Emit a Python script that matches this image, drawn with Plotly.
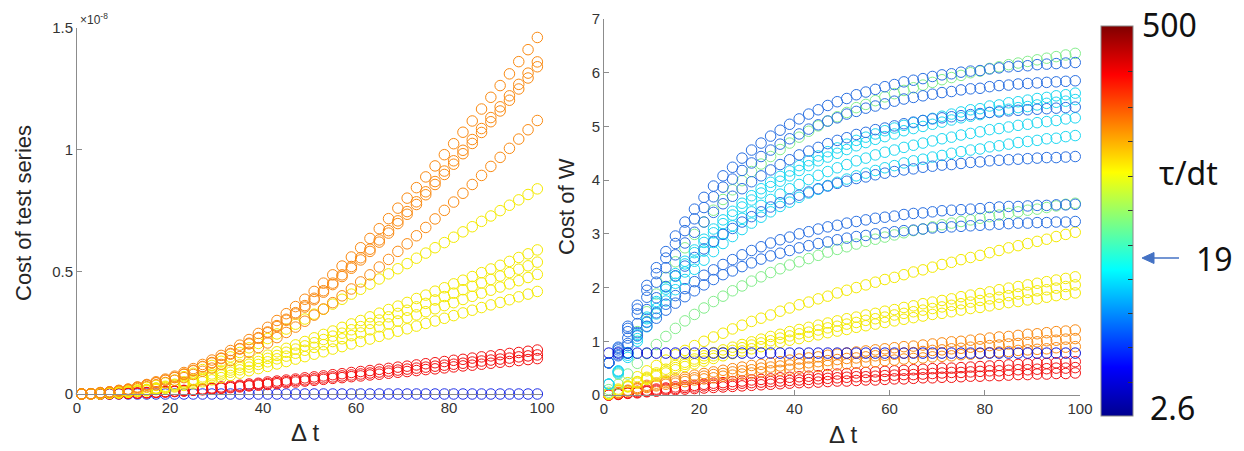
import plotly.graph_objects as go

# x positions of the markers (Delta t)
delta_t = list(range(1, 100, 2))

# ---------------- Left panel: Cost of test series (units of 1e-8) ----------------
test_orange_a = [0, 0.001, 0.006, 0.009, 0.015, 0.020, 0.029, 0.039, 0.050, 0.061,
                 0.073, 0.088, 0.104, 0.121, 0.139, 0.158, 0.178, 0.200, 0.223, 0.248,
                 0.273, 0.301, 0.329, 0.358, 0.388, 0.420, 0.454, 0.488, 0.524, 0.561,
                 0.599, 0.637, 0.677, 0.718, 0.761, 0.802, 0.845, 0.889, 0.934, 0.980,
                 1.025, 1.072, 1.118, 1.167, 1.215, 1.263, 1.311, 1.361, 1.410, 1.460]
test_orange_b = [0, 0.001, 0.005, 0.008, 0.014, 0.019, 0.027, 0.037, 0.046, 0.057,
                 0.068, 0.082, 0.097, 0.113, 0.129, 0.147, 0.166, 0.186, 0.208, 0.231,
                 0.254, 0.280, 0.306, 0.333, 0.362, 0.392, 0.423, 0.454, 0.488, 0.522,
                 0.558, 0.593, 0.631, 0.669, 0.709, 0.747, 0.787, 0.828, 0.870, 0.913,
                 0.955, 0.998, 1.042, 1.087, 1.132, 1.176, 1.221, 1.268, 1.314, 1.360]
test_orange_c = [0, 0.001, 0.005, 0.008, 0.013, 0.019, 0.027, 0.036, 0.046, 0.056,
                 0.067, 0.080, 0.095, 0.111, 0.127, 0.145, 0.163, 0.184, 0.205, 0.228,
                 0.251, 0.276, 0.302, 0.328, 0.356, 0.386, 0.417, 0.448, 0.481, 0.515,
                 0.549, 0.584, 0.622, 0.659, 0.698, 0.736, 0.776, 0.816, 0.858, 0.899,
                 0.941, 0.984, 1.026, 1.071, 1.115, 1.159, 1.203, 1.249, 1.294, 1.340]
test_orange_d = [0, 0.001, 0.004, 0.007, 0.011, 0.016, 0.022, 0.030, 0.038, 0.047,
                 0.056, 0.067, 0.080, 0.093, 0.106, 0.121, 0.137, 0.153, 0.171, 0.190,
                 0.209, 0.231, 0.252, 0.274, 0.298, 0.323, 0.348, 0.374, 0.402, 0.430,
                 0.459, 0.488, 0.520, 0.551, 0.584, 0.615, 0.648, 0.682, 0.717, 0.752,
                 0.786, 0.822, 0.858, 0.895, 0.932, 0.969, 1.006, 1.044, 1.082, 1.120]
test_yellow_a = [0, 0.001, 0.003, 0.005, 0.008, 0.013, 0.019, 0.027, 0.035, 0.045,
                 0.057, 0.071, 0.085, 0.100, 0.117, 0.134, 0.152, 0.170, 0.189, 0.207,
                 0.227, 0.246, 0.266, 0.286, 0.307, 0.327, 0.347, 0.368, 0.388, 0.409,
                 0.429, 0.450, 0.471, 0.492, 0.513, 0.534, 0.556, 0.577, 0.599, 0.620,
                 0.642, 0.664, 0.685, 0.707, 0.729, 0.751, 0.773, 0.795, 0.817, 0.840]
test_yellow_b = [0, 0.001, 0.002, 0.004, 0.006, 0.009, 0.014, 0.019, 0.025, 0.032,
                 0.040, 0.050, 0.060, 0.070, 0.082, 0.094, 0.107, 0.119, 0.133, 0.146,
                 0.159, 0.173, 0.187, 0.201, 0.215, 0.230, 0.244, 0.258, 0.273, 0.287,
                 0.301, 0.316, 0.331, 0.346, 0.360, 0.375, 0.391, 0.405, 0.421, 0.435,
                 0.451, 0.466, 0.481, 0.497, 0.512, 0.527, 0.543, 0.559, 0.574, 0.590]
test_yellow_c = [0, 0.001, 0.002, 0.003, 0.005, 0.009, 0.012, 0.017, 0.023, 0.029,
                 0.037, 0.045, 0.055, 0.064, 0.075, 0.086, 0.098, 0.109, 0.122, 0.133,
                 0.146, 0.158, 0.171, 0.184, 0.197, 0.210, 0.223, 0.237, 0.249, 0.263,
                 0.276, 0.289, 0.303, 0.316, 0.330, 0.343, 0.357, 0.371, 0.385, 0.399,
                 0.413, 0.427, 0.441, 0.455, 0.469, 0.483, 0.497, 0.511, 0.525, 0.540]
test_yellow_d = [0, 0.000, 0.001, 0.003, 0.005, 0.008, 0.011, 0.016, 0.021, 0.026,
                 0.033, 0.041, 0.049, 0.058, 0.068, 0.078, 0.089, 0.099, 0.110, 0.121,
                 0.132, 0.144, 0.155, 0.167, 0.179, 0.191, 0.202, 0.215, 0.226, 0.239,
                 0.250, 0.263, 0.275, 0.287, 0.299, 0.312, 0.324, 0.337, 0.349, 0.362,
                 0.374, 0.387, 0.400, 0.413, 0.425, 0.438, 0.451, 0.464, 0.477, 0.490]
test_yellow_e = [0, 0.000, 0.001, 0.003, 0.004, 0.007, 0.010, 0.013, 0.018, 0.023,
                 0.029, 0.035, 0.042, 0.050, 0.058, 0.067, 0.076, 0.085, 0.095, 0.104,
                 0.113, 0.123, 0.133, 0.143, 0.153, 0.163, 0.173, 0.184, 0.194, 0.205,
                 0.215, 0.225, 0.236, 0.246, 0.257, 0.267, 0.278, 0.289, 0.299, 0.310,
                 0.321, 0.332, 0.343, 0.354, 0.365, 0.375, 0.386, 0.398, 0.409, 0.420]
test_red_a = [0, 0.000, 0.001, 0.001, 0.002, 0.003, 0.004, 0.006, 0.008, 0.010,
              0.012, 0.015, 0.018, 0.021, 0.025, 0.029, 0.033, 0.036, 0.041, 0.044,
              0.049, 0.053, 0.057, 0.061, 0.066, 0.070, 0.074, 0.079, 0.083, 0.088,
              0.092, 0.096, 0.101, 0.105, 0.110, 0.114, 0.119, 0.124, 0.128, 0.133,
              0.138, 0.142, 0.147, 0.152, 0.156, 0.161, 0.166, 0.170, 0.175, 0.180]
test_red_b = [0, 0.000, 0.000, 0.001, 0.002, 0.003, 0.004, 0.005, 0.007, 0.009,
              0.011, 0.013, 0.016, 0.019, 0.022, 0.025, 0.029, 0.032, 0.036, 0.040,
              0.043, 0.047, 0.051, 0.055, 0.058, 0.062, 0.066, 0.070, 0.074, 0.078,
              0.082, 0.086, 0.090, 0.094, 0.098, 0.102, 0.106, 0.110, 0.114, 0.118,
              0.122, 0.126, 0.131, 0.135, 0.139, 0.143, 0.147, 0.152, 0.156, 0.160]
test_red_c = [0, 0.000, 0.000, 0.001, 0.001, 0.002, 0.003, 0.005, 0.006, 0.008,
              0.010, 0.012, 0.015, 0.017, 0.020, 0.023, 0.026, 0.029, 0.033, 0.036,
              0.039, 0.042, 0.046, 0.049, 0.053, 0.056, 0.060, 0.064, 0.067, 0.071,
              0.074, 0.078, 0.081, 0.085, 0.089, 0.092, 0.096, 0.100, 0.103, 0.107,
              0.111, 0.115, 0.118, 0.122, 0.126, 0.130, 0.133, 0.137, 0.141, 0.145]
test_blue = [0, 0, 0, 0, 0, 0, 0, 0, 0, 0, 0, 0, 0, 0, 0, 0, 0, 0, 0, 0, 0, 0, 0, 0, 0,
             0, 0, 0, 0, 0, 0, 0, 0, 0, 0, 0, 0, 0, 0, 0, 0, 0, 0, 0, 0, 0, 0, 0, 0, 0]

# ---------------- Right panel: Cost of W ----------------
w_blue_a = [0.60, 0.89, 1.28, 1.67, 2.04, 2.37, 2.67, 2.96, 3.22, 3.46,
            3.68, 3.89, 4.08, 4.24, 4.41, 4.56, 4.69, 4.82, 4.93, 5.04,
            5.14, 5.23, 5.31, 5.39, 5.46, 5.52, 5.59, 5.64, 5.69, 5.74,
            5.78, 5.83, 5.86, 5.89, 5.93, 5.96, 5.98, 6.01, 6.03, 6.04,
            6.07, 6.09, 6.11, 6.12, 6.13, 6.15, 6.16, 6.17, 6.18, 6.19]
w_blue_b = [0.60, 0.87, 1.24, 1.60, 1.95, 2.26, 2.55, 2.82, 3.06, 3.28,
            3.49, 3.69, 3.87, 4.02, 4.18, 4.32, 4.44, 4.56, 4.67, 4.77,
            4.86, 4.95, 5.03, 5.10, 5.16, 5.23, 5.28, 5.34, 5.38, 5.42,
            5.47, 5.51, 5.54, 5.57, 5.60, 5.63, 5.65, 5.68, 5.70, 5.71,
            5.74, 5.76, 5.77, 5.79, 5.80, 5.81, 5.82, 5.83, 5.84, 5.85]
w_blue_c = [0.60, 0.84, 1.18, 1.51, 1.82, 2.10, 2.37, 2.61, 2.83, 3.03,
            3.22, 3.40, 3.56, 3.70, 3.84, 3.97, 4.08, 4.19, 4.29, 4.38,
            4.47, 4.54, 4.61, 4.68, 4.74, 4.79, 4.85, 4.89, 4.94, 4.97,
            5.01, 5.05, 5.08, 5.11, 5.14, 5.16, 5.18, 5.20, 5.22, 5.24,
            5.26, 5.27, 5.29, 5.30, 5.31, 5.32, 5.33, 5.34, 5.35, 5.36]
w_blue_d = [0.60, 0.80, 1.06, 1.33, 1.59, 1.81, 2.02, 2.22, 2.40, 2.56,
            2.72, 2.86, 2.99, 3.10, 3.22, 3.32, 3.41, 3.50, 3.58, 3.65,
            3.72, 3.78, 3.84, 3.89, 3.94, 3.98, 4.03, 4.06, 4.10, 4.13,
            4.16, 4.19, 4.21, 4.24, 4.26, 4.28, 4.29, 4.31, 4.33, 4.34,
            4.36, 4.37, 4.38, 4.39, 4.40, 4.41, 4.42, 4.42, 4.43, 4.44]
w_blue_e = [0.60, 0.75, 0.96, 1.16, 1.36, 1.53, 1.69, 1.85, 1.98, 2.11,
            2.23, 2.33, 2.43, 2.52, 2.61, 2.69, 2.76, 2.83, 2.89, 2.94,
            3.00, 3.04, 3.09, 3.13, 3.16, 3.20, 3.23, 3.26, 3.29, 3.31,
            3.33, 3.36, 3.38, 3.39, 3.41, 3.43, 3.44, 3.45, 3.46, 3.47,
            3.49, 3.50, 3.51, 3.51, 3.52, 3.53, 3.53, 3.54, 3.54, 3.55]
w_blue_f = [0.60, 0.73, 0.92, 1.10, 1.28, 1.43, 1.58, 1.71, 1.83, 1.94,
            2.05, 2.15, 2.24, 2.31, 2.39, 2.46, 2.53, 2.59, 2.64, 2.69,
            2.74, 2.78, 2.82, 2.85, 2.89, 2.92, 2.95, 2.97, 3.00, 3.02,
            3.04, 3.06, 3.07, 3.09, 3.11, 3.12, 3.13, 3.14, 3.15, 3.16,
            3.17, 3.18, 3.19, 3.20, 3.20, 3.21, 3.21, 3.22, 3.22, 3.23]
w_cyan_a = [0.20, 0.45, 0.79, 1.13, 1.45, 1.74, 2.01, 2.26, 2.49, 2.70,
            2.90, 3.09, 3.26, 3.42, 3.57, 3.71, 3.84, 3.96, 4.07, 4.17,
            4.27, 4.36, 4.45, 4.53, 4.60, 4.67, 4.74, 4.80, 4.86, 4.92,
            4.97, 5.02, 5.07, 5.11, 5.15, 5.19, 5.23, 5.27, 5.31, 5.33,
            5.38, 5.40, 5.44, 5.46, 5.49, 5.52, 5.54, 5.57, 5.59, 5.62]
w_cyan_b = [0.20, 0.44, 0.78, 1.11, 1.42, 1.71, 1.97, 2.21, 2.44, 2.65,
            2.84, 3.02, 3.19, 3.35, 3.50, 3.63, 3.76, 3.88, 3.98, 4.08,
            4.18, 4.27, 4.36, 4.43, 4.50, 4.57, 4.64, 4.70, 4.76, 4.81,
            4.86, 4.92, 4.96, 5.00, 5.04, 5.08, 5.12, 5.16, 5.19, 5.22,
            5.26, 5.29, 5.32, 5.35, 5.37, 5.40, 5.43, 5.45, 5.47, 5.50]
w_cyan_c = [0.20, 0.43, 0.74, 1.05, 1.35, 1.61, 1.86, 2.08, 2.29, 2.49,
            2.68, 2.84, 3.00, 3.15, 3.29, 3.41, 3.53, 3.64, 3.74, 3.84,
            3.92, 4.01, 4.09, 4.16, 4.23, 4.29, 4.36, 4.41, 4.47, 4.52,
            4.56, 4.61, 4.65, 4.69, 4.73, 4.77, 4.80, 4.84, 4.87, 4.90,
            4.94, 4.96, 4.99, 5.02, 5.04, 5.07, 5.09, 5.11, 5.14, 5.16]
w_cyan_d = [0.20, 0.41, 0.70, 1.00, 1.27, 1.51, 1.75, 1.96, 2.15, 2.34,
            2.51, 2.67, 2.82, 2.95, 3.08, 3.20, 3.31, 3.41, 3.51, 3.59,
            3.68, 3.76, 3.83, 3.90, 3.96, 4.02, 4.08, 4.13, 4.18, 4.23,
            4.27, 4.32, 4.36, 4.39, 4.43, 4.46, 4.50, 4.53, 4.56, 4.58,
            4.62, 4.64, 4.67, 4.70, 4.72, 4.74, 4.77, 4.78, 4.81, 4.83]
w_green_a = [0.10, 0.39, 0.78, 1.18, 1.55, 1.88, 2.19, 2.48, 2.74, 2.99,
             3.22, 3.44, 3.64, 3.82, 3.99, 4.16, 4.30, 4.44, 4.57, 4.69,
             4.80, 4.91, 5.01, 5.10, 5.18, 5.26, 5.35, 5.41, 5.48, 5.55,
             5.61, 5.67, 5.72, 5.77, 5.82, 5.87, 5.91, 5.95, 6.00, 6.03,
             6.08, 6.11, 6.15, 6.18, 6.21, 6.24, 6.27, 6.30, 6.33, 6.36]
w_green_b = [0.05, 0.20, 0.39, 0.59, 0.77, 0.94, 1.09, 1.24, 1.38, 1.50,
             1.62, 1.74, 1.84, 1.94, 2.03, 2.12, 2.20, 2.28, 2.35, 2.42,
             2.48, 2.54, 2.60, 2.66, 2.71, 2.76, 2.81, 2.86, 2.90, 2.94,
             2.98, 3.02, 3.06, 3.09, 3.13, 3.17, 3.20, 3.23, 3.26, 3.29,
             3.32, 3.35, 3.38, 3.41, 3.44, 3.46, 3.49, 3.52, 3.55, 3.57]
w_yellow_a = [0.02, 0.11, 0.23, 0.34, 0.45, 0.55, 0.65, 0.75, 0.83, 0.92,
              1.00, 1.08, 1.15, 1.23, 1.30, 1.37, 1.43, 1.49, 1.56, 1.62,
              1.68, 1.73, 1.79, 1.84, 1.90, 1.95, 2.00, 2.05, 2.10, 2.15,
              2.19, 2.24, 2.29, 2.33, 2.38, 2.43, 2.47, 2.52, 2.56, 2.60,
              2.65, 2.69, 2.74, 2.78, 2.82, 2.86, 2.90, 2.95, 2.99, 3.03]
w_yellow_b = [0.02, 0.09, 0.17, 0.25, 0.33, 0.41, 0.48, 0.55, 0.61, 0.67,
              0.73, 0.79, 0.84, 0.89, 0.94, 0.99, 1.04, 1.09, 1.13, 1.18,
              1.22, 1.26, 1.30, 1.34, 1.38, 1.42, 1.45, 1.49, 1.52, 1.56,
              1.59, 1.63, 1.66, 1.70, 1.73, 1.76, 1.79, 1.83, 1.86, 1.89,
              1.92, 1.96, 1.99, 2.02, 2.05, 2.08, 2.11, 2.14, 2.17, 2.20]
w_yellow_c = [0.02, 0.08, 0.16, 0.24, 0.31, 0.38, 0.44, 0.51, 0.57, 0.63,
              0.68, 0.73, 0.79, 0.83, 0.88, 0.93, 0.97, 1.01, 1.06, 1.10,
              1.14, 1.17, 1.21, 1.25, 1.28, 1.32, 1.35, 1.39, 1.42, 1.45,
              1.49, 1.52, 1.55, 1.58, 1.61, 1.64, 1.67, 1.70, 1.73, 1.76,
              1.79, 1.82, 1.85, 1.88, 1.91, 1.94, 1.96, 1.99, 2.02, 2.05]
w_yellow_d = [0.02, 0.08, 0.15, 0.22, 0.29, 0.35, 0.41, 0.47, 0.53, 0.58,
              0.63, 0.68, 0.73, 0.77, 0.82, 0.86, 0.90, 0.94, 0.98, 1.02,
              1.05, 1.09, 1.12, 1.16, 1.19, 1.22, 1.26, 1.29, 1.32, 1.35,
              1.38, 1.41, 1.44, 1.47, 1.50, 1.52, 1.55, 1.58, 1.61, 1.63,
              1.66, 1.69, 1.72, 1.74, 1.77, 1.79, 1.82, 1.85, 1.87, 1.90]
w_orange_a = [0.01, 0.05, 0.09, 0.14, 0.18, 0.22, 0.26, 0.30, 0.33, 0.37,
              0.40, 0.43, 0.46, 0.49, 0.52, 0.55, 0.57, 0.60, 0.62, 0.65,
              0.67, 0.69, 0.71, 0.74, 0.76, 0.78, 0.80, 0.82, 0.84, 0.86,
              0.88, 0.90, 0.91, 0.93, 0.95, 0.97, 0.99, 1.00, 1.02, 1.04,
              1.06, 1.08, 1.09, 1.11, 1.13, 1.14, 1.16, 1.18, 1.19, 1.21]
w_orange_b = [0.01, 0.04, 0.08, 0.12, 0.16, 0.19, 0.23, 0.26, 0.29, 0.32,
              0.35, 0.38, 0.40, 0.43, 0.45, 0.47, 0.50, 0.52, 0.54, 0.56,
              0.58, 0.60, 0.62, 0.64, 0.66, 0.68, 0.69, 0.71, 0.73, 0.74,
              0.76, 0.78, 0.79, 0.81, 0.83, 0.84, 0.86, 0.87, 0.89, 0.90,
              0.92, 0.93, 0.95, 0.96, 0.98, 0.99, 1.01, 1.02, 1.04, 1.05]
w_orange_c = [0.01, 0.04, 0.07, 0.11, 0.14, 0.17, 0.20, 0.22, 0.25, 0.28,
              0.30, 0.32, 0.35, 0.37, 0.39, 0.41, 0.43, 0.45, 0.46, 0.48,
              0.50, 0.52, 0.53, 0.55, 0.56, 0.58, 0.59, 0.61, 0.62, 0.64,
              0.65, 0.67, 0.68, 0.69, 0.71, 0.72, 0.73, 0.75, 0.76, 0.77,
              0.79, 0.80, 0.81, 0.83, 0.84, 0.85, 0.86, 0.88, 0.89, 0.90]
w_red_a = [0.00, 0.02, 0.04, 0.07, 0.09, 0.11, 0.13, 0.15, 0.17, 0.18,
           0.20, 0.22, 0.23, 0.25, 0.26, 0.28, 0.29, 0.30, 0.32, 0.33,
           0.34, 0.35, 0.36, 0.38, 0.39, 0.40, 0.41, 0.42, 0.43, 0.44,
           0.45, 0.46, 0.47, 0.48, 0.49, 0.50, 0.50, 0.51, 0.52, 0.53,
           0.54, 0.55, 0.56, 0.57, 0.58, 0.59, 0.59, 0.60, 0.61, 0.62]
w_red_b = [0.00, 0.02, 0.04, 0.05, 0.07, 0.09, 0.11, 0.12, 0.14, 0.15,
           0.17, 0.18, 0.19, 0.20, 0.22, 0.23, 0.24, 0.25, 0.26, 0.27,
           0.28, 0.29, 0.30, 0.31, 0.32, 0.33, 0.34, 0.34, 0.35, 0.36,
           0.37, 0.38, 0.38, 0.39, 0.40, 0.41, 0.42, 0.42, 0.43, 0.44,
           0.45, 0.45, 0.46, 0.47, 0.47, 0.48, 0.49, 0.50, 0.50, 0.51]
w_red_c = [0.00, 0.01, 0.03, 0.04, 0.06, 0.07, 0.09, 0.10, 0.11, 0.12,
           0.13, 0.14, 0.15, 0.16, 0.17, 0.18, 0.19, 0.20, 0.21, 0.22,
           0.23, 0.23, 0.24, 0.25, 0.26, 0.26, 0.27, 0.28, 0.28, 0.29,
           0.30, 0.30, 0.31, 0.32, 0.32, 0.33, 0.33, 0.34, 0.35, 0.35,
           0.36, 0.36, 0.37, 0.38, 0.38, 0.39, 0.39, 0.40, 0.40, 0.41]
w_navy = [0.78, 0.78, 0.78, 0.78, 0.78, 0.78, 0.78, 0.78, 0.78, 0.78,
          0.78, 0.78, 0.78, 0.78, 0.78, 0.78, 0.78, 0.78, 0.78, 0.78,
          0.78, 0.78, 0.78, 0.78, 0.78, 0.78, 0.78, 0.78, 0.78, 0.78,
          0.78, 0.78, 0.78, 0.78, 0.78, 0.78, 0.78, 0.78, 0.78, 0.78,
          0.78, 0.78, 0.78, 0.78, 0.78, 0.78, 0.78, 0.78, 0.78, 0.78]

# colour bar labels
cbar_top_label = "500"
cbar_mid_label = "19"
cbar_bottom_label = "2.6"
cbar_title = "τ/dt"
cbar_tick_positions = [0.086, 0.175, 0.263, 0.351, 0.438, 0.526, 0.615, 0.703, 0.791, 0.883]

# colours (MATLAB jet samples)
C_BLUE_L = "#1f2fe8"
C_RED = "#f31212"
C_YELLOW = "#f4ea00"
C_ORANGE = "#fa8a12"
C_BLUE = "#2a70e2"
C_CYAN = "#1cd8f2"
C_GREEN = "#84ee8c"
C_NAVY = "#0b12d6"

jet = [[0.0, "rgb(0,0,143)"], [0.125, "rgb(0,0,255)"], [0.375, "rgb(0,255,255)"],
       [0.625, "rgb(255,255,0)"], [0.875, "rgb(255,0,0)"], [1.0, "rgb(128,0,0)"]]

left_series = [
    (test_blue, C_BLUE_L),
    (test_red_c, C_RED), (test_red_b, C_RED), (test_red_a, C_RED),
    (test_yellow_e, C_YELLOW), (test_yellow_d, C_YELLOW), (test_yellow_c, C_YELLOW),
    (test_yellow_b, C_YELLOW), (test_yellow_a, C_YELLOW),
    (test_orange_d, C_ORANGE), (test_orange_c, C_ORANGE), (test_orange_b, C_ORANGE),
    (test_orange_a, C_ORANGE),
]
right_series = [
    (w_red_c, C_RED), (w_red_b, C_RED), (w_red_a, C_RED),
    (w_orange_c, C_ORANGE), (w_orange_b, C_ORANGE), (w_orange_a, C_ORANGE),
    (w_yellow_d, C_YELLOW), (w_yellow_c, C_YELLOW), (w_yellow_b, C_YELLOW), (w_yellow_a, C_YELLOW),
    (w_green_b, C_GREEN), (w_green_a, C_GREEN),
    (w_cyan_d, C_CYAN), (w_cyan_c, C_CYAN), (w_cyan_b, C_CYAN), (w_cyan_a, C_CYAN),
    (w_blue_f, C_BLUE), (w_blue_e, C_BLUE), (w_blue_d, C_BLUE), (w_blue_c, C_BLUE),
    (w_blue_b, C_BLUE), (w_blue_a, C_BLUE),
    (w_navy, C_NAVY),
]

W, H = 1244, 451


def px(xp):
    return xp / W


def py(yp):
    return 1 - yp / H


fig = go.Figure()


def add_series(ys, color, xa, ya):
    fig.add_trace(go.Scatter(
        x=delta_t, y=ys, mode="markers", xaxis=xa, yaxis=ya,
        marker=dict(symbol="circle-open", size=10.5, color=color, line=dict(width=1, color=color)),
        cliponaxis=False, showlegend=False, hoverinfo="skip"))


for ys, col in left_series:
    add_series(ys, col, "x", "y")
for ys, col in right_series:
    add_series(ys, col, "x2", "y2")

# colour bar (jet)
fig.add_trace(go.Scatter(
    x=[None], y=[None], mode="markers", xaxis="x2", yaxis="y2", showlegend=False,
    marker=dict(color=[0.5], cmin=0, cmax=1, colorscale=jet, showscale=True,
                colorbar=dict(thickness=32, thicknessmode="pixels", len=390, lenmode="pixels",
                              x=px(1101), xanchor="left", y=py(221), yanchor="middle",
                              xpad=0, ypad=0, outlinewidth=1, outlinecolor="#8a8a8a",
                              ticks="inside", ticklen=5, tickwidth=1, tickcolor="#333333",
                              tickvals=cbar_tick_positions, showticklabels=False,
                              borderwidth=0))))

TICK_FONT = dict(family="Liberation Sans, Arial, sans-serif", size=15, color="#333333")
ax_common = dict(showgrid=False, zeroline=False, showline=True, linecolor="#8c8c8c", linewidth=1,
                 ticks="inside", ticklen=5, tickwidth=1, tickcolor="#8c8c8c", tickfont=TICK_FONT,
                 mirror=False, fixedrange=True)

fig.update_layout(
    width=W, height=H, margin=dict(l=0, r=0, t=0, b=0, autoexpand=False),
    paper_bgcolor="white", plot_bgcolor="white", hovermode=False,
    xaxis=dict(domain=[px(77), px(542)], range=[0, 100], tickvals=[0, 20, 40, 60, 80, 100],
               anchor="y", **ax_common),
    yaxis=dict(domain=[py(394), py(27.7)], range=[0, 1.5],
               tickvals=[0, 0.5, 1, 1.5], ticktext=["0", "0.5", "1", "1.5"], anchor="x", **ax_common),
    xaxis2=dict(domain=[px(604), px(1080)], range=[0, 100], tickvals=[0, 20, 40, 60, 80, 100],
                anchor="y2", **ax_common),
    yaxis2=dict(domain=[py(395), py(19)], range=[0, 7],
                tickvals=[0, 1, 2, 3, 4, 5, 6, 7], anchor="x2", **ax_common),
)

LABEL_FONT = dict(family="Liberation Sans, Arial, sans-serif", size=22, color="#262626")
DT_FONT = dict(family="Liberation Sans, Arial, sans-serif", size=24, color="#262626")
CB_FONT = dict(family="Noto Sans, Open Sans, sans-serif", size=32, color="#111111")

annotations = [
    dict(text="Cost of test series", x=px(23), y=py(213), textangle=-90, font=LABEL_FONT),
    dict(text="Cost of W", x=px(566), y=py(207), textangle=-90, font=LABEL_FONT),
    dict(text="Δ t", x=px(305), y=py(432), font=DT_FONT),
    dict(text="Δ t", x=px(843), y=py(434), font=DT_FONT),
    dict(text="×10<sup>-8</sup>", x=px(78), y=py(19), xanchor="left",
         font=dict(family="Liberation Sans, Arial, sans-serif", size=12, color="#333333")),
    dict(text=cbar_top_label, x=px(1169), y=py(25), font=CB_FONT),
    dict(text=cbar_title, x=px(1188), y=py(173), font=CB_FONT),
    dict(text=cbar_mid_label, x=px(1214), y=py(258), font=CB_FONT),
    dict(text=cbar_bottom_label, x=px(1172), y=py(407), font=CB_FONT),
]
for a in annotations:
    a.setdefault("xanchor", "center")
    a.update(xref="paper", yref="paper", yanchor="middle", showarrow=False)
    fig.add_annotation(**a)

# arrow pointing at the colour-bar level of 19 (shaft + head as shapes)
ARROW = "#4472C4"
fig.add_shape(type="line", xref="paper", yref="paper", x0=px(1150), y0=py(258), x1=px(1179), y1=py(258),
              line=dict(color=ARROW, width=1.5))
fig.add_shape(type="path", xref="paper", yref="paper",
              path=f"M {px(1142)} {py(258)} L {px(1154)} {py(252.5)} L {px(1154)} {py(263.5)} Z",
              fillcolor=ARROW, line=dict(color=ARROW, width=1))

# remove the default page margin so the 1244x451 figure fills the window exactly
fig.write_html("out.html", post_script="document.body.style.margin='0';document.body.style.overflow='hidden';")
